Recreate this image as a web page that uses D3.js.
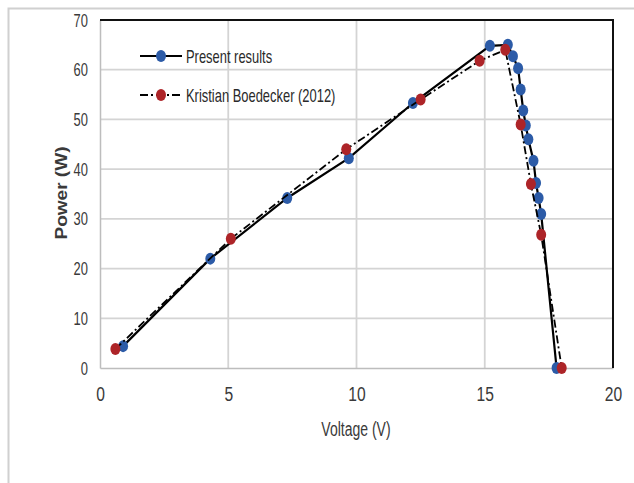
<!DOCTYPE html>
<html>
<head>
<meta charset="utf-8">
<script src="https://cdn.jsdelivr.net/npm/d3@7"></script>
<style>
  body { margin: 0; background: #fff; }
  .tick text { font-family: "Liberation Sans", Arial, sans-serif; fill: #3a3a3a; }
</style>
</head>
<body>
<div id="chart"></div>
<script>
// voltage / power
var presentV = [0.9, 4.3, 7.3, 9.7, 12.2, 15.2, 15.9, 16.1, 16.3, 16.4, 16.5, 16.6, 16.7, 16.9, 17.0, 17.1, 17.2, 17.8];
var presentP = [4.4, 22.0, 34.2, 42.2, 53.3, 64.8, 65.0, 62.7, 60.3, 56.0, 51.8, 48.8, 46.0, 41.7, 37.2, 34.2, 31.0, 0];
var boedV = [0.6, 5.1, 9.6, 12.5, 14.8, 15.8, 16.4, 16.8, 17.2, 18.0];
var boedP = [3.8, 26.0, 44.0, 54.0, 61.8, 64.0, 49.0, 37.0, 26.8, 0];
var xTicks = [0, 5, 10, 15, 20];
var yTicks = [0, 10, 20, 30, 40, 50, 60, 70];
var seriesNames = ["Present results", "Kristian Boedecker (2012)"];

var W = 634, H = 483;
var margin = {top: 20, right: 21, bottom: 115, left: 100},
    width = W - margin.left - margin.right,
    height = H - margin.top - margin.bottom;

// the figure's font is a narrow one, so squeeze the glyphs
function squeeze(sel, f) {
  sel.each(function() {
    var l = this.getComputedTextLength();
    d3.select(this).attr("textLength", l * f).attr("lengthAdjust", "spacingAndGlyphs");
  });
}

var root = d3.select("#chart").append("svg")
    .attr("width", W)
    .attr("height", H);

// outer frame (only top and left show)
root.append("path")
    .attr("d", "M8.5," + H + "V8.5H" + W)
    .attr("fill", "none")
    .attr("stroke", "#d0d0d0")
    .attr("stroke-width", 2);

var svg = root.append("g")
    .attr("transform", "translate(" + margin.left + "," + margin.top + ")");

var x = d3.scaleLinear().domain([0, 20]).range([0, width]);
var y = d3.scaleLinear().domain([0, 70]).range([height, 0]);

// grid
svg.append("g").selectAll("line.h")
    .data(yTicks.slice(1, -1))
  .enter().append("line")
    .attr("x1", 0).attr("x2", width)
    .attr("y1", function(d) { return y(d); })
    .attr("y2", function(d) { return y(d); })
    .attr("stroke", "#d4d4d4").attr("stroke-width", 1.8);

svg.append("g").selectAll("line.v")
    .data(xTicks.slice(1, -1))
  .enter().append("line")
    .attr("y1", 0).attr("y2", height)
    .attr("x1", function(d) { return x(d); })
    .attr("x2", function(d) { return x(d); })
    .attr("stroke", "#d4d4d4").attr("stroke-width", 1.8);

// axes
var xAxis = svg.append("g")
    .attr("transform", "translate(0," + height + ")")
    .call(d3.axisBottom(x).tickValues(xTicks).tickSize(0).tickPadding(19));
xAxis.select(".domain").attr("stroke", "#bdbdbd").attr("stroke-width", 1.5);
xAxis.selectAll("text").attr("font-size", 20).call(squeeze, 0.78);

var yAxis = svg.append("g")
    .call(d3.axisLeft(y).tickValues(yTicks).tickSize(0).tickPadding(12));
yAxis.select(".domain").attr("stroke", "#bdbdbd").attr("stroke-width", 1.5);
yAxis.selectAll("text").attr("font-size", 19).call(squeeze, 0.68);

// top and right border in black
svg.append("path")
    .attr("d", "M0,0H" + width + "V" + height)
    .attr("fill", "none")
    .attr("stroke", "#111")
    .attr("stroke-width", 2);

// axis titles
root.append("text")
    .attr("x", 356).attr("y", 436)
    .attr("text-anchor", "middle")
    .attr("font-family", "'Liberation Sans', Arial, sans-serif")
    .attr("font-size", 20)
    .attr("fill", "#3a3a3a")
    .text("Voltage (V)")
    .call(squeeze, 0.7);

root.append("text")
    .attr("transform", "translate(67,193) rotate(-90)")
    .attr("text-anchor", "middle")
    .attr("font-family", "'Liberation Sans', Arial, sans-serif")
    .attr("font-weight", "bold")
    .attr("font-size", 17)
    .attr("fill", "#3a3a3a")
    .attr("textLength", 93)
    .attr("lengthAdjust", "spacingAndGlyphs")
    .text("Power (W)");

var present = presentV.map(function(v, i) { return [v, presentP[i]]; });
var boed = boedV.map(function(v, i) { return [v, boedP[i]]; });

var line = d3.line()
    .x(function(d) { return x(d[0]); })
    .y(function(d) { return y(d[1]); });

var blue = "#2c5ba7", red = "#ad2428";

svg.append("path").datum(present)
    .attr("d", line)
    .attr("fill", "none").attr("stroke", "#000").attr("stroke-width", 2.2);

svg.selectAll(".pm")
    .data(present)
  .enter().append("ellipse")
    .attr("class", "pm")
    .attr("cx", function(d) { return x(d[0]); })
    .attr("cy", function(d) { return y(d[1]); })
    .attr("rx", 5).attr("ry", 6)
    .attr("fill", blue);

svg.append("path").datum(boed)
    .attr("d", line)
    .attr("fill", "none").attr("stroke", "#000").attr("stroke-width", 1.8)
    .attr("stroke-dasharray", "8,3,2,3");

svg.selectAll(".bm")
    .data(boed)
  .enter().append("ellipse")
    .attr("class", "bm")
    .attr("cx", function(d) { return x(d[0]); })
    .attr("cy", function(d) { return y(d[1]); })
    .attr("rx", 5).attr("ry", 6)
    .attr("fill", red);

// legend
var legend = root.append("g");
var rows = [{name: seriesNames[0], color: blue, dash: null, y: 56},
            {name: seriesNames[1], color: red, dash: "8,3,2,3", y: 95}];
rows.forEach(function(r) {
  legend.append("line")
      .attr("x1", 140).attr("x2", 182)
      .attr("y1", r.y).attr("y2", r.y)
      .attr("stroke", "#000")
      .attr("stroke-width", r.dash ? 1.8 : 2.2)
      .attr("stroke-dasharray", r.dash);
  legend.append("ellipse")
      .attr("cx", 161).attr("cy", r.y)
      .attr("rx", 5).attr("ry", 6)
      .attr("fill", r.color);
  legend.append("text")
      .attr("x", 186).attr("y", r.y)
      .attr("dy", "0.35em")
      .attr("font-family", "'Liberation Sans', Arial, sans-serif")
      .attr("font-size", 19)
      .attr("fill", "#2a2a2a")
      .text(r.name)
      .call(squeeze, 0.68);
});
</script>
</body>
</html>
